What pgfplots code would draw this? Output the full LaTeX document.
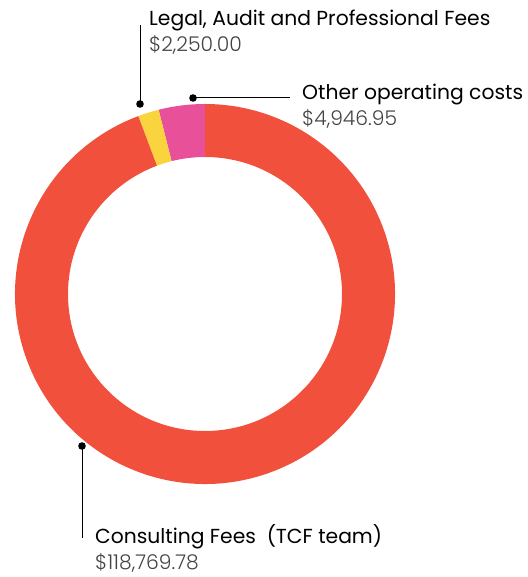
\documentclass[border=0pt]{standalone}
\usepackage{pgfplots}
\usepackage{pgfplotstable}
\pgfplotsset{compat=1.18}
\usepackage{fontspec}
\setmainfont{Poppins}
\newfontfamily\lightfont{Poppins Light}
\definecolor{cRed}{HTML}{F0503C}
\definecolor{cPink}{HTML}{E9509A}
\definecolor{cYel}{HTML}{F9D43F}
\definecolor{cGrey}{HTML}{444444}
\pgfplotstableread{
label value
Other 4946.95
Legal 2250.00
Consulting 118769.78
}\data
\pgfplotstablegetelem{0}{value}\of\data \let\vOther\pgfplotsretval
\pgfplotstablegetelem{1}{value}\of\data \let\vLegal\pgfplotsretval
\pgfplotstablegetelem{2}{value}\of\data \let\vCons\pgfplotsretval
\pgfkeys{/pgf/fpu=true, /pgf/fpu/output format=fixed}
\pgfmathsetmacro{\tot}{\vOther+\vLegal+\vCons}
\pgfmathsetmacro{\aB}{90+360*\vOther/\tot}
\pgfmathsetmacro{\aC}{\aB+360*\vLegal/\tot}
\pgfkeys{/pgf/fpu=false}
\def\aA{90}
\def\aD{450}
\begin{document}
\begin{tikzpicture}
\begin{axis}[scale only axis, width=527pt, height=577pt,
  xmin=0, xmax=527, ymin=0, ymax=577, hide axis, clip=false]
\def\R{190pt}\def\r{137pt}
\fill[cPink] (axis cs:205,283) ++(\aA:\R) arc[start angle=\aA, end angle=\aB, radius=\R]
  -- ([shift={(axis cs:205,283)}]\aB:\r) arc[start angle=\aB, end angle=\aA, radius=\r] -- cycle;
\fill[cYel] (axis cs:205,283) ++(\aB:\R) arc[start angle=\aB, end angle=\aC, radius=\R]
  -- ([shift={(axis cs:205,283)}]\aC:\r) arc[start angle=\aC, end angle=\aB, radius=\r] -- cycle;
\fill[cRed] (axis cs:205,283) ++(\aC:\R) arc[start angle=\aC, end angle=\aD, radius=\R]
  -- ([shift={(axis cs:205,283)}]\aD:\r) arc[start angle=\aD, end angle=\aC, radius=\r] -- cycle;
% leaders
\draw[black, line width=1pt] (axis cs:140,473) -- (axis cs:140,552);
\fill (axis cs:140,473) circle[radius=3.8pt];
\draw[black, line width=1pt] (axis cs:193,479) -- (axis cs:290,479);
\fill (axis cs:193,479) circle[radius=3.8pt];
\draw[black, line width=1pt] (axis cs:82,131) -- (axis cs:82,39);
\fill (axis cs:82,131) circle[radius=3.8pt];
% labels
\node[anchor=base west, inner sep=0pt, font=\fontsize{20.3}{24}\selectfont] at (axis cs:149,551) {Legal, Audit and Professional Fees};
\node[anchor=base west, inner sep=0pt, text=cGrey, font=\lightfont\fontsize{20.3}{24}\selectfont] at (axis cs:149,525) {\$2,250.00};
\node[anchor=base west, inner sep=0pt, font=\fontsize{20.3}{24}\selectfont] at (axis cs:302,477) {Other operating costs};
\node[anchor=base west, inner sep=0pt, text=cGrey, font=\lightfont\fontsize{20.3}{24}\selectfont] at (axis cs:302,451) {\$4,946.95};
\node[anchor=base west, inner sep=0pt, font=\fontsize{20.3}{24}\selectfont] at (axis cs:95,34) {Consulting Fees~~(TCF team)};
\node[anchor=base west, inner sep=0pt, text=cGrey, font=\lightfont\fontsize{20.3}{24}\selectfont] at (axis cs:95,8) {\$118,769.78};
\end{axis}
\pgfresetboundingbox
\path (current axis.south west) rectangle (current axis.north east);
\end{tikzpicture}
\end{document}
